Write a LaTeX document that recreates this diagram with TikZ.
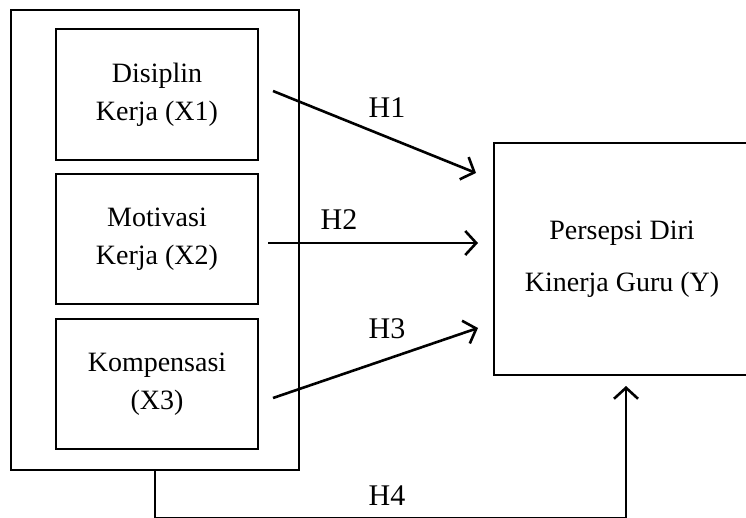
\documentclass[tikz,border=0pt]{standalone}
\usepackage{fontspec}
\setmainfont{Liberation Serif}
\usetikzlibrary{arrows.meta}
\tikzset{
  kotak/.style={draw,line width=2.6pt,rectangle,align=center,inner sep=0pt,font=\fontsize{28}{38}\selectfont},
  panah/.style={line width=2.6pt,-{Straight Barb[length=11pt,width=24pt,line width=2.6pt]}},
  labelh/.style={font=\fontsize{30}{36}\selectfont}
}
\begin{document}
\begin{tikzpicture}[x=1pt,y=-1pt,line cap=butt,line join=miter]
\useasboundingbox (0,0) rectangle (746,518);
\node[kotak,minimum width=288,minimum height=460] (luar) at (155,240) {};
\node[kotak,minimum width=202,minimum height=131] (x1) at (157,94.5) {Disiplin\\Kerja (X1)};
\node[kotak,minimum width=202,minimum height=130] (x2) at (157,239) {Motivasi\\Kerja (X2)};
\node[kotak,minimum width=202,minimum height=130] (x3) at (157,384) {Kompensasi\\(X3)};
\node[kotak,minimum width=256,minimum height=232,font=\fontsize{28}{52}\selectfont] (y) at (622,259) {Persepsi Diri\\Kinerja Guru (Y)};
\coordinate (a1) at (273,91);
\coordinate (b1) at (476,173);
\coordinate (a2) at (268,243);
\coordinate (b2) at (478,243);
\coordinate (a3) at (273,398);
\coordinate (b3) at (478,328);
\coordinate (b4) at (626,386);
\draw[panah] (a1) -- (b1);
\draw[panah] (a2) -- (b2);
\draw[panah] (a3) -- (b3);
\draw[panah] (luar.south) -- ++(0,47) -| (b4);
\node[labelh] (h1) at (387,108) {H1};
\node[labelh] (h2) at (339,220) {H2};
\node[labelh] (h3) at (387,329) {H3};
\node[labelh] (h4) at (387,496) {H4};
\end{tikzpicture}
\end{document}
